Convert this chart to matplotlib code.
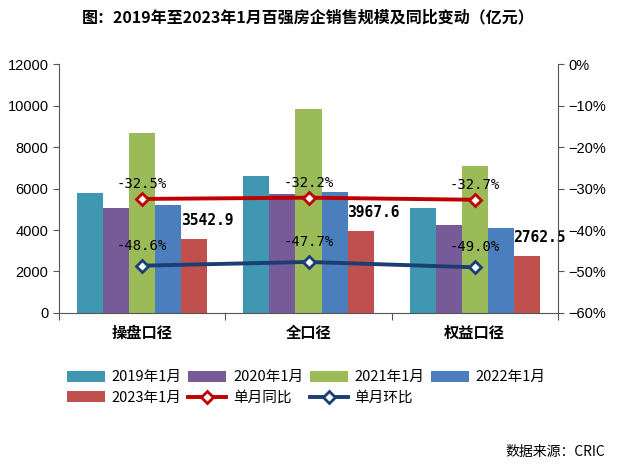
import matplotlib.pyplot as plt
import numpy as np

plt.rcParams['font.family'] = ['Noto Sans CJK SC', 'DejaVu Sans']

# data
categories = ["操盘口径", "全口径", "权益口径"]
years = ["2019年1月", "2020年1月", "2021年1月", "2022年1月", "2023年1月"]
sales_2019 = [5780, 6590, 5050]
sales_2020 = [5050, 5730, 4240]
sales_2021 = [8680, 9820, 7090]
sales_2022 = [5210, 5820, 4080]
sales_2023 = [3542.9, 3967.6, 2762.5]
yoy = [-32.5, -32.2, -32.7]
mom = [-48.6, -47.7, -49.0]

bar_colors = ["#3F97B1", "#775B98", "#9BBB59", "#4A7EBD", "#C0504D"]
red_line = "#C00000"
blue_line = "#1B3E73"

fig = plt.figure(figsize=(6.17, 4.65), dpi=100)
ax = fig.add_axes([0.0956, 0.327, 0.8088, 0.535])

x = np.arange(len(categories))
w = 0.157
series = [sales_2019, sales_2020, sales_2021, sales_2022, sales_2023]
bars = []
for i, vals in enumerate(series):
    b = ax.bar(x + (i - 2) * w, vals, w, color=bar_colors[i], label=years[i], zorder=2)
    bars.append(b)

# value labels for 2023
for rect, v in zip(bars[4], sales_2023):
    ax.text(rect.get_x() - 0.003, v + 900, f"{v:.1f}", ha='left', va='center',
            fontsize=10.5, fontweight='bold', family=['DejaVu Sans Mono'], color='black', zorder=5)

ax.set_ylim(0, 12000)
ax.set_yticks(range(0, 12001, 2000))
ax.set_yticklabels([str(t) for t in range(0, 12001, 2000)], family=['Liberation Sans'])
ax.set_xlim(-0.5, 2.5)
ax.set_xticks([-0.5, 0.5, 1.5, 2.5])
ax.set_xticklabels([])
for xi, c in zip(x, categories):
    ax.text(xi, -0.08, c, transform=ax.get_xaxis_transform(), ha='center', va='center',
            fontsize=11, fontweight='bold')
ax.tick_params(axis='y', labelsize=10.5, length=4, color='#555555')
ax.tick_params(axis='x', length=5, color='#555555')
for s in ['top', 'right']:
    ax.spines[s].set_visible(False)
ax.spines['left'].set_color('#555555')
ax.spines['bottom'].set_color('#555555')

ax2 = ax.twinx()
ax2.set_ylim(-60, 0)
ax2.set_yticks(range(-60, 1, 10))
ax2.set_yticklabels([f"{t}%".replace('-', '−') for t in range(-60, 1, 10)], family=['Liberation Sans'])
ax2.tick_params(axis='y', labelsize=10.5, length=4, color='#555555')
for s in ['top', 'left', 'bottom']:
    ax2.spines[s].set_visible(False)
ax2.spines['right'].set_color('#555555')

l1, = ax2.plot(x, yoy, color=red_line, lw=2.8, marker='D', markersize=6,
               markerfacecolor='white', markeredgecolor=red_line, markeredgewidth=2, label="单月同比", zorder=4)
l2, = ax2.plot(x, mom, color=blue_line, lw=2.8, marker='D', markersize=6,
               markerfacecolor='white', markeredgecolor=blue_line, markeredgewidth=2, label="单月环比", zorder=4)
for xi, v in zip(x, yoy):
    ax2.text(xi, v + 3.6, f"{v:.1f}%", ha='center', va='center', fontsize=10,
             family=['DejaVu Sans Mono'], color='black')
for xi, v in zip(x, mom):
    ax2.text(xi, v + 4.8, f"{v:.1f}%", ha='center', va='center', fontsize=10,
             family=['DejaVu Sans Mono'], color='black')

fig.text(0.5, 0.963, "图：2019年至2023年1月百强房企销售规模及同比变动（亿元）", ha='center', va='center',
         fontsize=11.5, fontweight='bold')

# legend filled row by row (matplotlib fills column by column)
h = list(bars) + [l1, l2]
lab = years + ["单月同比", "单月环比"]
order = [0, 4, 1, 5, 2, 6, 3]
leg = fig.legend([h[i] for i in order], [lab[i] for i in order], loc='upper left',
                 bbox_to_anchor=(0.088, 0.232), ncol=4, frameon=False,
                 fontsize=10.5, handlelength=2.6, handleheight=0.75, columnspacing=0.45,
                 handletextpad=0.45, labelspacing=0.45)

fig.text(0.98, 0.027, "数据来源：CRIC", ha='right', va='center', fontsize=10)

fig.savefig("out.png", dpi=100)
